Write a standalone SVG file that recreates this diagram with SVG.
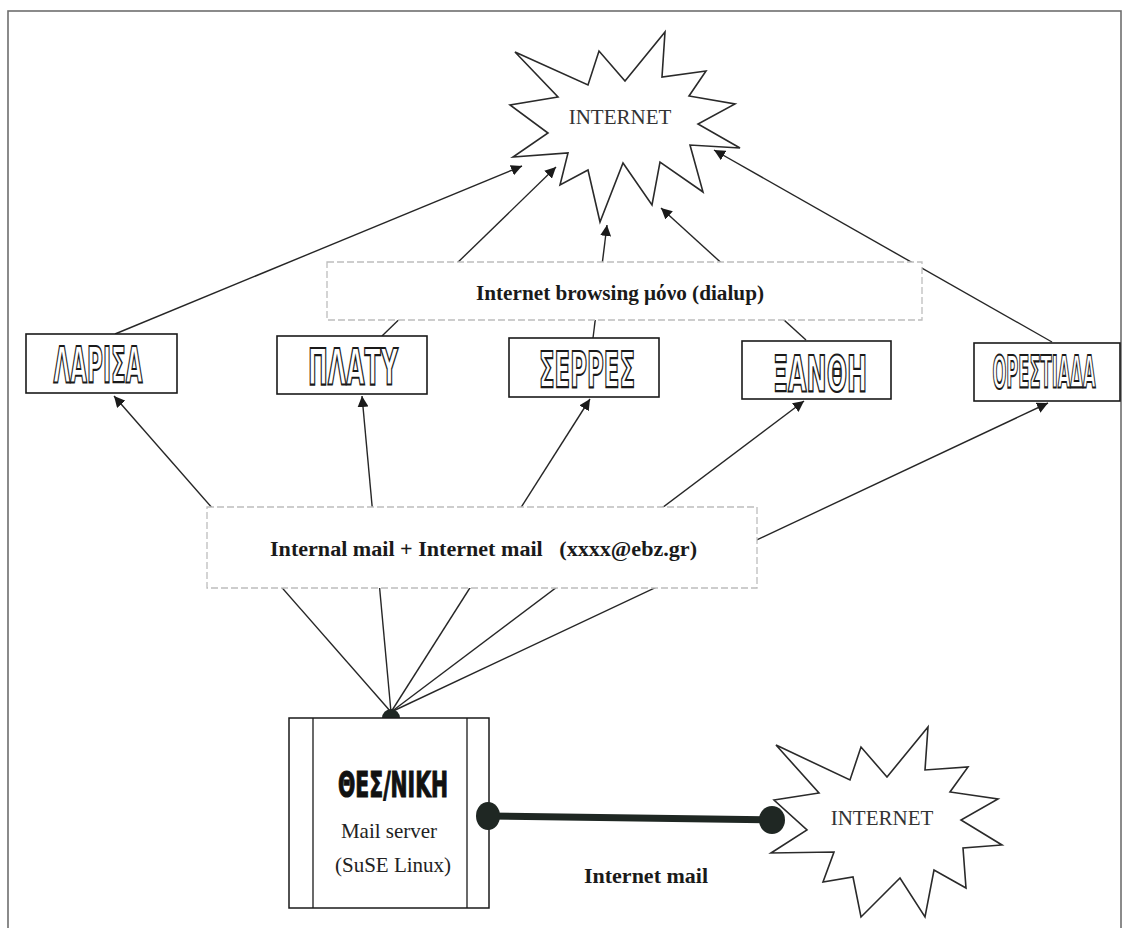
<svg xmlns="http://www.w3.org/2000/svg" width="1131" height="928" viewBox="0 0 1131 928">
<style>
.frame{fill:none;stroke:#6e6e6e;stroke-width:1.6}
.city rect{fill:#fff;stroke:#1a1a1a;stroke-width:1.6}
.city text{font-family:"DejaVu Sans",sans-serif;font-weight:bold;font-size:49px;fill:#fff;stroke:#1a1a1a;stroke-width:2.2;text-anchor:middle}
.burst polygon{fill:#fff;stroke:#2a2a2a;stroke-width:1.6;stroke-linejoin:miter}
.burst text{font-family:"Liberation Serif",serif;font-size:21px;fill:#333;text-anchor:middle}
.label rect{fill:#fff;stroke:#bdbdbd;stroke-width:1.3;stroke-dasharray:7 3}
.label text{font-family:"Liberation Serif",serif;font-weight:bold;font-size:20px;fill:#1a1a1a;white-space:pre}
.conn line{stroke:#262626;stroke-width:1.4}
.serif{font-family:"Liberation Serif",serif;font-size:21px;fill:#222;text-anchor:middle}
</style>
<defs>
<marker id="ah" viewBox="0 0 10 10" refX="10" refY="5" markerWidth="11" markerHeight="11" markerUnits="userSpaceOnUse" orient="auto">
<path d="M0,0 L10,5 L0,10 Z" fill="#1a1a1a"/>
</marker>
</defs>
<rect width="1131" height="928" fill="#fff"/>
<rect class="frame" x="8" y="11" width="1113" height="940"/>

<g id="connectors" class="conn">
<line x1="115" y1="334" x2="522" y2="166" marker-end="url(#ah)"/>
<line x1="382" y1="336" x2="556" y2="167" marker-end="url(#ah)"/>
<line x1="593" y1="338" x2="607" y2="225" marker-end="url(#ah)"/>
<line x1="806" y1="340" x2="661" y2="208" marker-end="url(#ah)"/>
<line x1="1052" y1="342" x2="714" y2="150" marker-end="url(#ah)"/>
<line x1="391" y1="712" x2="114" y2="396" marker-end="url(#ah)"/>
<line x1="391" y1="712" x2="362" y2="396" marker-end="url(#ah)"/>
<line x1="391" y1="712" x2="590" y2="399" marker-end="url(#ah)"/>
<line x1="391" y1="712" x2="804" y2="401" marker-end="url(#ah)"/>
<line x1="391" y1="712" x2="1048" y2="403" marker-end="url(#ah)"/>
<line x1="488" y1="816" x2="773" y2="820" style="stroke:#1f2723;stroke-width:7"/>
</g>

<g id="internet-top" class="burst">
<polygon points="515,52 588,85 599,51 625,81 665,32 662,77 706,71 689,96 735,104 698,124 740,148 690,145 703,192 660,162 652,205 623,163 600,222 588,170 560,185 568,153 513,157 548,133 510,105 558,97"/>
<text x="620" y="124">INTERNET</text>
</g>

<g id="label-dialup" class="label">
<rect x="327" y="262" width="595" height="58"/>
<text x="476" y="300" textLength="288" lengthAdjust="spacingAndGlyphs">Internet browsing μόνο (dialup)</text>
</g>

<g id="label-mail" class="label">
<rect x="207" y="507" width="550" height="81"/>
<text x="270" y="556" textLength="427" lengthAdjust="spacingAndGlyphs">Internal mail + Internet mail   (xxxx@ebz.gr)</text>
</g>

<g id="larisa" class="city">
<rect x="26" y="334" width="151" height="59"/>
<text transform="translate(98,382) scale(0.6,1)" textLength="148" lengthAdjust="spacingAndGlyphs">ΛΑΡΙΣΑ</text>
</g>
<g id="platy" class="city">
<rect x="277" y="336" width="150" height="58"/>
<text transform="translate(353,384) scale(0.6,1)" textLength="150" lengthAdjust="spacingAndGlyphs">ΠΛΑΤΥ</text>
</g>
<g id="serres" class="city">
<rect x="509" y="338" width="150" height="59"/>
<text transform="translate(587,387) scale(0.6,1)" textLength="160" lengthAdjust="spacingAndGlyphs">ΣΕΡΡΕΣ</text>
</g>
<g id="xanthi" class="city">
<rect x="742" y="341" width="149" height="58"/>
<text transform="translate(820,391) scale(0.6,1)" textLength="157" lengthAdjust="spacingAndGlyphs">ΞΑΝΘΗ</text>
</g>
<g id="orestiada" class="city">
<rect x="974" y="343" width="146" height="58"/>
<text transform="translate(1044,388) scale(0.5,1)" textLength="206" lengthAdjust="spacingAndGlyphs" style="font-size:44px">ΟΡΕΣΤΙΑΔΑ</text>
</g>

<g id="thessaloniki">
<circle cx="391" cy="718" r="9" fill="#1f2723"/>
<rect x="289" y="718" width="200" height="190" fill="#fff" stroke="#1a1a1a" stroke-width="1.5"/>
<line x1="313" y1="718" x2="313" y2="908" stroke="#1a1a1a" stroke-width="1.3"/>
<line x1="467" y1="718" x2="467" y2="908" stroke="#1a1a1a" stroke-width="1.3"/>
<text x="393" y="797" textLength="110" lengthAdjust="spacingAndGlyphs" style="font-family:'DejaVu Sans',sans-serif;font-weight:bold;font-size:36px;fill:#111;stroke:#111;stroke-width:1.2;text-anchor:middle">ΘΕΣ/ΝΙΚΗ</text>
<text class="serif" x="389" y="838">Mail server</text>
<text class="serif" x="393" y="872">(SuSE Linux)</text>
<ellipse cx="488" cy="816" rx="12" ry="14" fill="#1f2723"/>
</g>

<g id="internet-bottom" class="burst">
<polygon points="776,745 850,780 861,747 887,777 928,727 925,770 968,767 950,792 998,799 961,820 1002,845 963,848 966,888 934,870 925,917 900,878 861,917 853,877 823,882 834,852 771,853 807,830 774,800 819,793"/>
<text x="882" y="825">INTERNET</text>
</g>
<ellipse id="internet-port" cx="772" cy="820" rx="13" ry="14" fill="#1f2723"/>

<text id="label-internet-mail" x="584" y="883" textLength="124" lengthAdjust="spacingAndGlyphs" style="font-family:'Liberation Serif',serif;font-weight:bold;font-size:20px;fill:#1a1a1a">Internet mail</text>
</svg>
